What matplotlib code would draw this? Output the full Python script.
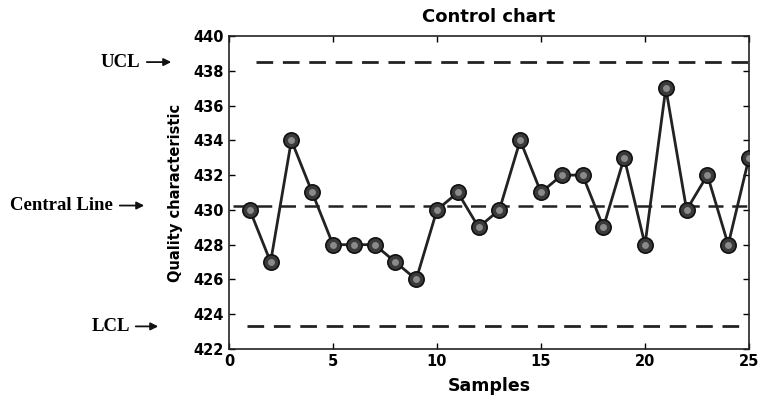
import numpy as np
import matplotlib.pyplot as plt
from matplotlib.patches import FancyArrowPatch

# values
samples = list(range(1, 26))
quality = [430, 427, 434, 431, 428, 428, 428, 427, 426, 430,
           431, 429, 430, 434, 431, 432, 432, 429, 433, 428,
           437, 430, 432, 428, 433]
ucl = 438.5
center = 430.25
lcl = 423.3

x_ticks = [0, 5, 10, 15, 20, 25]
y_ticks = [422, 424, 426, 428, 430, 432, 434, 436, 438, 440]

W, H = 762, 404
fig = plt.figure(figsize=(W / 100, H / 100), dpi=100)
ax = fig.add_axes([229 / W, 1 - 349 / H, 520 / W, 313 / H])

# limit lines
ax.plot([1.3, 25], [ucl, ucl], color='#222222', lw=2, dashes=(6, 3.5))
ax.plot([0.2, 25], [center, center], color='#222222', lw=1.8, dashes=(6, 3.5))
ax.plot([0.85, 24.5], [lcl, lcl], color='#222222', lw=2, dashes=(6, 3.5))

# data line with shaded markers
ax.plot(samples, quality, color='#222222', lw=2, zorder=3)
ax.plot(samples, quality, ls='none', marker='o', ms=11, mfc='#3a3a3a',
        mec='#111111', mew=1.2, zorder=4)
ax.plot(samples, quality, ls='none', marker='o', ms=5, mfc='#8a8a8a',
        mec='none', zorder=5)

ax.set_xlim(0, 25)
ax.set_ylim(422, 440)
ax.set_xticks(x_ticks)
ax.set_yticks(y_ticks)
ax.tick_params(direction='in', top=True, right=True, length=4, width=1)
for lab in ax.get_xticklabels() + ax.get_yticklabels():
    lab.set_fontweight('bold')
    lab.set_fontsize(10.5)
for s in ax.spines.values():
    s.set_linewidth(1.2)
    s.set_color('#222222')

ax.set_title('Control chart', fontsize=13, fontweight='bold', pad=10)
ax.set_xlabel('Samples', fontsize=12.5, fontweight='bold', labelpad=6)
ax.set_ylabel('Quality characteristic', fontsize=10.5, fontweight='bold', labelpad=8)

# side labels with arrows (right edge of text, arrow start, arrow end in px)
serif = dict(family='Liberation Serif', fontweight='bold', fontsize=13.5,
             ha='right', va='center')
side = [('UCL', ucl, 140, 144, 174),
        ('Central Line', center, 113, 117, 147),
        ('LCL', lcl, 130, 133, 161)]
for text, yv, xr, a0, a1 in side:
    yfig = ax.transData.transform((0, yv))[1] / fig.bbox.height
    fig.text(xr / W, yfig, text, **serif)
    fig.patches.append(FancyArrowPatch(
        (a0 / W, yfig), (a1 / W, yfig), transform=fig.transFigure,
        arrowstyle='-|>', mutation_scale=11, lw=1.3, color='#111111'))

fig.savefig('out.png', dpi=100)
